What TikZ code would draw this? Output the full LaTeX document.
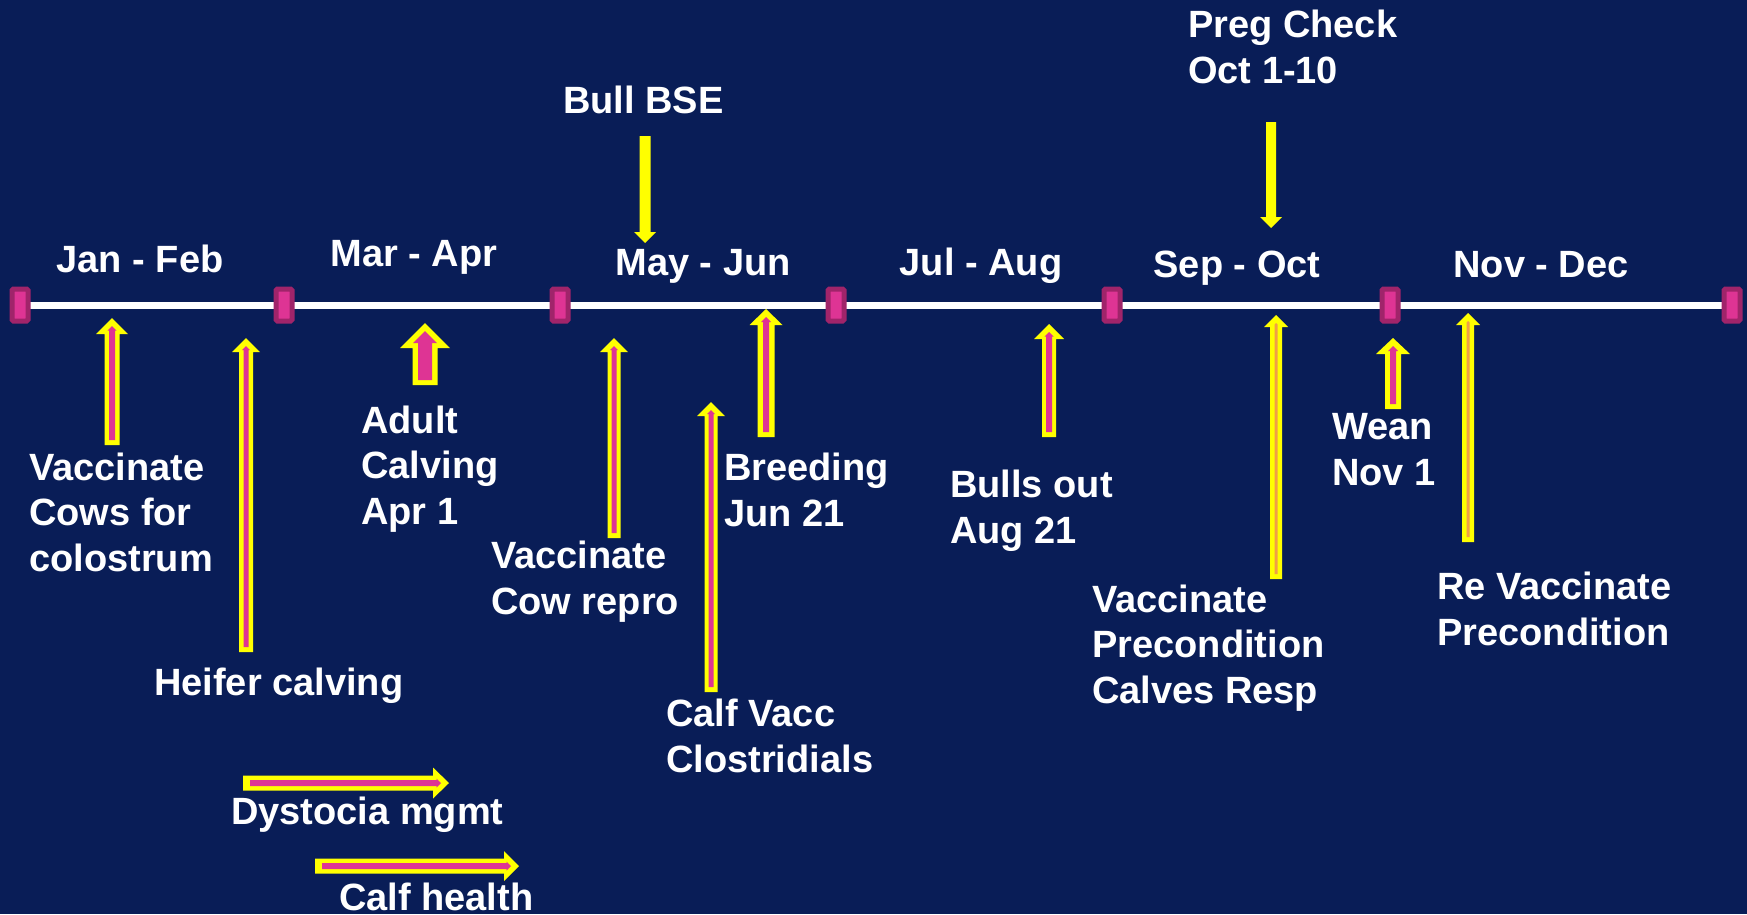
\documentclass[tikz,border=0pt]{standalone}
\usepackage{fontspec}
\setmainfont{Liberation Sans}
\definecolor{bg}{RGB}{9,29,87}
\definecolor{ylw}{RGB}{255,255,0}
\definecolor{mag}{RGB}{222,52,148}
\definecolor{magdark}{RGB}{160,36,106}
\definecolor{org}{RGB}{240,160,70}
% up block arrow: x, tip, bottom, shaft half, head half, head len, inner shaft half, inner head half, inner colour
\newcommand\upblk[9]{%
  \fill[ylw] (#1,#2) -- (#1+#5,#2+#6) -- (#1+#4,#2+#6) -- (#1+#4,#3) -- (#1-#4,#3) -- (#1-#4,#2+#6) -- (#1-#5,#2+#6) -- cycle;
  \fill[#9] (#1,#2+8) -- (#1+#8,#2+8+#8) -- (#1+#7,#2+8+#8) -- (#1+#7,#3-5) -- (#1-#7,#3-5) -- (#1-#7,#2+8+#8) -- (#1-#8,#2+8+#8) -- cycle;}
% right block arrow: y, left, tip, shaft half, head half, head len, inner shaft half, inner head half, inner colour
\newcommand\rtblk[9]{%
  \fill[ylw] (#3,#1) -- (#3-#6,#1-#5) -- (#3-#6,#1-#4) -- (#2,#1-#4) -- (#2,#1+#4) -- (#3-#6,#1+#4) -- (#3-#6,#1+#5) -- cycle;
  \fill[#9] (#3-8,#1) -- (#3-8-#8,#1-#8) -- (#3-8-#8,#1-#7) -- (#2+7,#1-#7) -- (#2+7,#1+#7) -- (#3-8-#8,#1+#7) -- (#3-8-#8,#1+#8) -- cycle;}
% down solid arrow: x, top, tip, shaft half, head half, head len
\newcommand\dnblk[6]{%
  \fill[ylw] (#1,#3) -- (#1+#5,#3-#6) -- (#1+#4,#3-#6) -- (#1+#4,#2) -- (#1-#4,#2) -- (#1-#4,#3-#6) -- (#1-#5,#3-#6) -- cycle;}
\tikzset{
  lbl/.style={text=white, font=\fontsize{38}{45.5}\selectfont\bfseries, inner sep=0pt, align=left, anchor=base west},
  mon/.style={text=white, font=\fontsize{38}{45.5}\selectfont\bfseries, inner sep=0pt, anchor=base},
  marker/.style={rectangle, draw=magdark, fill=mag, line width=5pt, minimum width=16pt, minimum height=32pt, inner sep=0pt, rounded corners=1.5pt}
}
\begin{document}
\begin{tikzpicture}[x=1pt,y=-1pt]
\fill[bg] (0,0) rectangle (1747,914);
\useasboundingbox (0,0) rectangle (1747,914);
% timeline
\foreach \i/\mx in {0/20,1/284,2/560,3/836,4/1112,5/1390,6/1732}
  \coordinate (c\i) at (\mx,305);
\draw[white, line width=7pt] (c0) -- (c6);
\foreach \i in {0,...,6} \node[marker] (m\i) at (c\i) {};
% month labels
\node[mon] (jan) at (140,272) {Jan - Feb};
\node[mon] (mar) at (414,266) {Mar - Apr};
\node[mon] (may) at (703,275) {May - Jun};
\node[mon] (jul) at (981,275) {Jul - Aug};
\node[mon] (sep) at (1237,277) {Sep - Oct};
\node[mon] (nov) at (1541,277) {Nov - Dec};
% top labels (position = baseline of last line)
\node[lbl] (bse) at (563,113) {Bull BSE};
\node[lbl] (preg) at (1188,83) {Preg Check\\Oct 1-10};
% down arrows
\dnblk{645}{136}{243}{5.5}{11}{11}
\dnblk{1271}{122}{228}{5}{11}{11}
% up arrows
\upblk{112}{318}{445}{7.5}{16}{16}{3}{4.5}{mag}
\upblk{246}{338}{652}{7}{14}{14}{2.5}{4}{mag}
\upblk{425}{323}{385}{12.5}{25}{25}{7}{12}{mag}
\upblk{614}{338}{538}{6.5}{14}{14}{2.5}{4}{mag}
\upblk{711}{402}{692}{6.5}{14}{14}{2.5}{4}{mag}
\upblk{766}{309}{437}{8.5}{16.5}{16}{3}{5}{mag}
\upblk{1049}{324}{437}{7}{15}{15}{3}{4.5}{mag}
\upblk{1276}{315}{579}{6}{12}{12}{1.5}{1.5}{org}
\upblk{1393}{338}{409}{8}{17}{16}{3}{5}{mag}
\upblk{1468}{313}{542}{6}{12}{12}{1.5}{1.5}{org}
% horizontal arrows
\rtblk{783}{243}{449}{7.5}{15.5}{16}{3}{4.5}{mag}
\rtblk{866}{315}{519}{7.5}{15}{15}{3}{4.5}{mag}
% body labels (position = baseline of last line)
\node[lbl] (vcc) at (29,571) {Vaccinate\\Cows for\\colostrum};
\node[lbl] (hc) at (154,695) {Heifer calving};
\node[lbl] (ac) at (361,524) {Adult\\Calving\\Apr 1};
\node[lbl] (vcr) at (491,614) {Vaccinate\\Cow repro};
\node[lbl] (br) at (724,526) {Breeding\\Jun 21};
\node[lbl] (cv) at (666,772) {Calf Vacc\\Clostridials};
\node[lbl] (bo) at (950,543) {Bulls out\\Aug 21};
\node[lbl] (vp) at (1092,703) {Vaccinate\\Precondition\\Calves Resp};
\node[lbl] (wn) at (1332,485) {Wean\\Nov 1};
\node[lbl] (rv) at (1437,645) {Re Vaccinate\\Precondition};
\node[lbl] (dm) at (231,824) {Dystocia mgmt};
\node[lbl] (ch) at (339,910) {Calf health};
\end{tikzpicture}
\end{document}
